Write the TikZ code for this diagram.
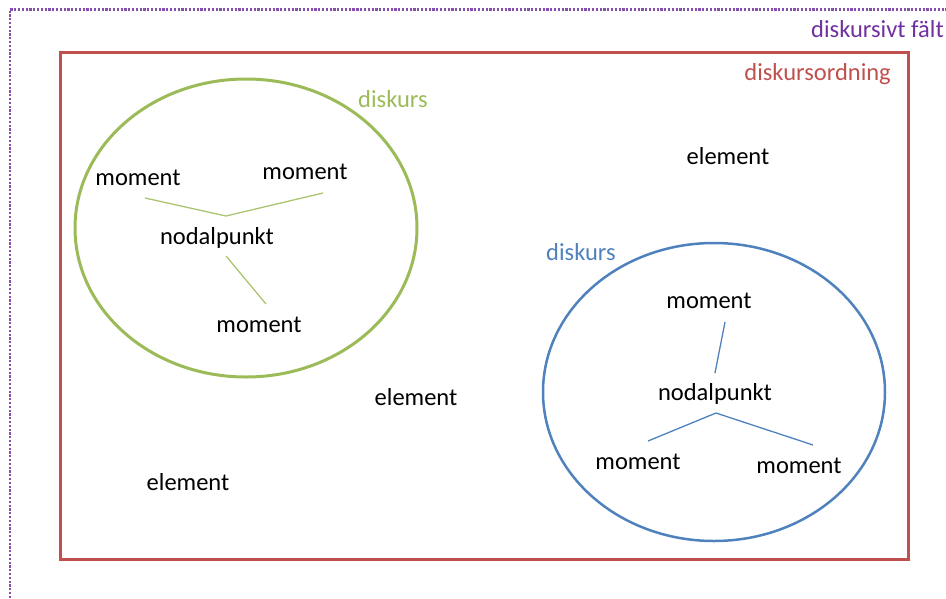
\documentclass[tikz,border=0pt]{standalone}
\usepackage{fontspec}
\setmainfont{Carlito}
\usetikzlibrary{positioning}

\definecolor{faltpurple}{HTML}{7030A0}
\definecolor{ordred}{HTML}{C0504D}
\definecolor{diskgreen}{HTML}{9BBB59}
\definecolor{diskblue}{HTML}{4F81BD}

\begin{document}
\begin{tikzpicture}[x=1pt, y=-1pt,
        word/.style={anchor=base, inner sep=0pt, font=\fontsize{24.5}{28}\selectfont},
        glink/.style={draw=diskgreen!85, line width=1.3pt},
        blink/.style={draw=diskblue, line width=1.3pt}]
        \useasboundingbox (0,0) rectangle (946,598);

        % diskursivt fält, open to the right and below
        \draw [faltpurple!85, line width=2.6pt, dash pattern=on 2.2pt off 1.6pt]
               (10,598) -- (10,9.5) -- (946,9.5);
        \node [word, anchor=base east, text=faltpurple] (falt) at (944,37) {diskursivt fält};

        % diskursordning
        \draw [ordred, line width=3pt] (60,52) rectangle (908,559);
        \node [word, anchor=base east, text=ordred] (ordning) at (891,80) {diskursordning};

        % left diskurs
        \draw [diskgreen, line width=3pt] (246,228) ellipse [x radius=171, y radius=149];
        \node [word, anchor=base west, text=diskgreen] (diskL) at (358,107) {diskurs};
        \node [word] (momL1) at (138,185) {moment};
        \node [word] (momL2) at (305,179) {moment};
        \node [word] (nodL)  at (217,244) {nodalpunkt};
        \node [word] (momL3) at (259,332) {moment};
        \coordinate (jL)  at (226,216);
        \coordinate (aL1) at (145,198);
        \coordinate (aL2) at (323,193);
        \coordinate (aL3) at (226,256);
        \coordinate (bL3) at (266,304);
        \draw [glink] (aL1) -- (jL) -- (aL2);
        \draw [glink] (aL3) -- (bL3);

        % right diskurs
        \draw [diskblue, line width=2.5pt] (714,392) ellipse [x radius=171, y radius=149];
        \node [word, anchor=base west, text=diskblue] (diskR) at (546,260) {diskurs};
        \node [word] (momR1) at (709,308) {moment};
        \node [word] (nodR)  at (715,400) {nodalpunkt};
        \node [word] (momR2) at (638,469) {moment};
        \node [word] (momR3) at (799,473) {moment};
        \coordinate (jR)  at (716,413);
        \coordinate (aR1) at (725,322);
        \coordinate (bR1) at (715,373);
        \coordinate (aR2) at (648,441);
        \coordinate (aR3) at (813,445);
        \draw [blink] (aR1) -- (bR1);
        \draw [blink] (aR2) -- (jR) -- (aR3);

        % loose elements
        \node [word] (el1) at (728,164) {element};
        \node [word] (el2) at (416,405) {element};
        \node [word] (el3) at (188,490) {element};
\end{tikzpicture}
\end{document}
